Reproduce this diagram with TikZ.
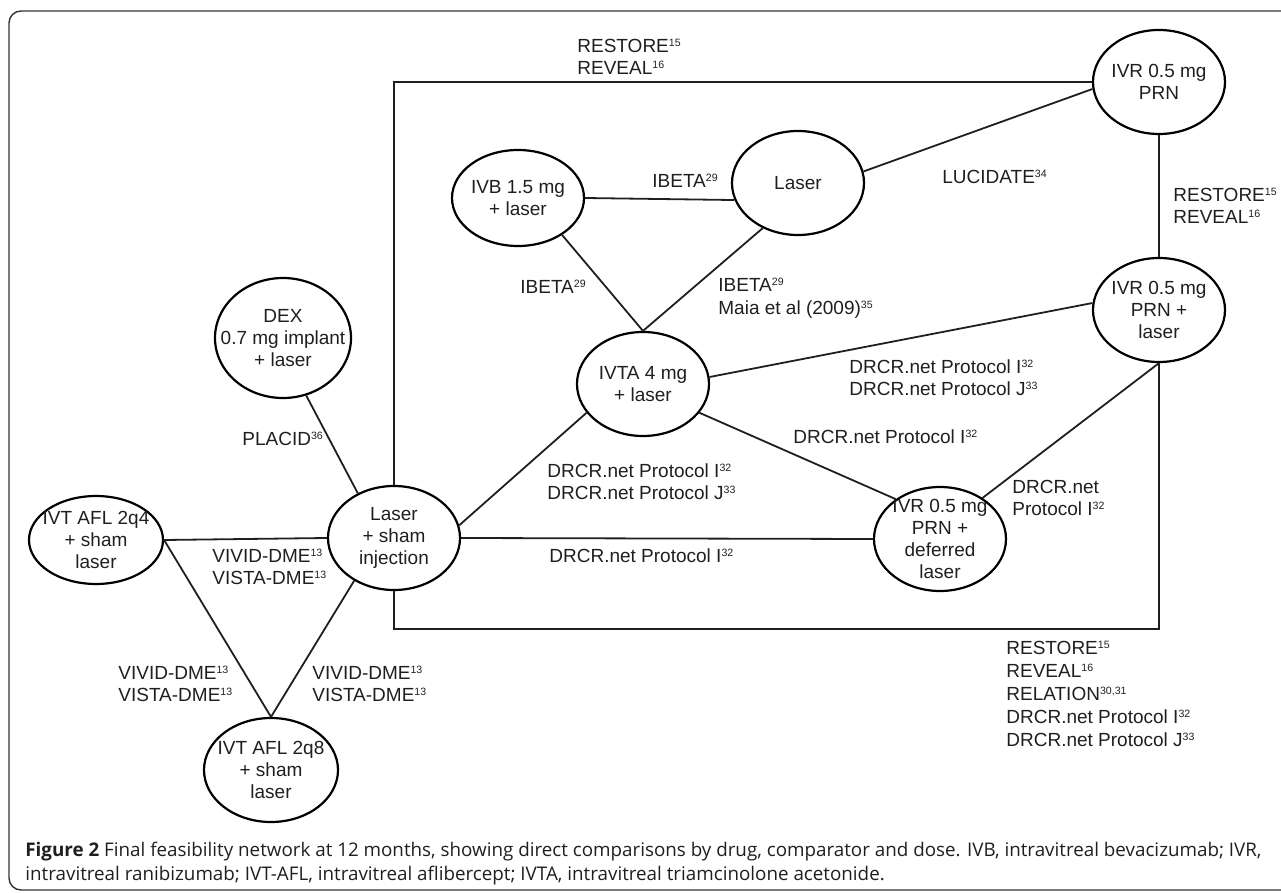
\documentclass[tikz,border=0pt]{standalone}
\usepackage{fontspec}
\setmainfont{Liberation Sans}
\newfontfamily\capfont{Open Sans}
\usetikzlibrary{shapes.geometric}
\newcommand{\rf}[1]{\raisebox{3pt}{\fontsize{5.3}{6}\selectfont #1}}

\begin{document}
\begin{tikzpicture}[x=0.5pt, y=-0.5pt,
  every node/.style={font=\fontsize{9.5}{11}\selectfont, text=black!88},
  trt/.style={ellipse, draw, line width=1.1pt, inner sep=-12pt, minimum width=66pt, minimum height=52pt, align=center},
  lbl/.style={anchor=west, align=left, inner sep=0pt},
  link/.style={line width=0.9pt, black!88}]
\useasboundingbox (0,0) rectangle (1281,893);
\draw[line width=0.7pt, black!80, rounded corners=6pt] (9,890) rectangle (1300,11);

% treatments
\node[trt] (PRN) at (1159,82) {IVR 0.5 mg\\PRN};
\node[trt] (PRNL) at (1159,310) {IVR 0.5 mg\\PRN +\\laser};
\node[trt] (LAS) at (798,183) {Laser};
\node[trt, minimum height=48pt] (IVB) at (518,198) {IVB 1.5 mg\\+ laser};
\node[trt] (IVTA) at (643,384) {IVTA 4 mg\\+ laser};
\node[trt, minimum width=68pt, minimum height=60pt] (DEX) at (283,338) {DEX\\0.7 mg implant\\+ laser};
\node[trt] (LSI) at (394,538) {Laser\\+ sham\\injection};
\node[trt] (DEF) at (940,539) {IVR 0.5 mg\\PRN +\\deferred\\laser};
\node[trt, minimum width=67pt, minimum height=44pt] (AFL4) at (96,540) {IVT AFL 2q4\\+ sham\\laser};
\node[trt, minimum width=67pt] (AFL8) at (271,770) {IVT AFL 2q8\\+ sham\\laser};

% comparisons
\coordinate (loopB) at (1159,629);
\draw[link] (LSI.north) |- (PRN.west);
\draw[link] (LSI.south) |- (loopB) -- (PRNL.south);
\draw[link] (PRN.south) -- (PRNL.north);
\draw[link] (LAS.10) -- (PRN.186);
\draw[link] (IVB.east) -- (LAS.195);
\draw[link] (IVB.-40) -- (IVTA.north);
\draw[link] (LAS.232) -- (IVTA.north);
\draw[link] (DEX.-68) -- (LSI.129);
\draw[link] (LSI.11) -- (IVTA.207);
\draw[link] (LSI.east) -- (DEF.west);
\draw[link] (IVTA.-27) -- (DEF.138);
\draw[link] (IVTA.6) -- (PRNL.174);
\draw[link] (DEF.44) -- (PRNL.south);
\draw[link] (AFL4.east) -- (LSI.west);
\draw[link] (AFL4.east) -- (AFL8.north);
\draw[link] (LSI.227) -- (AFL8.north);

% trials
\node[lbl] (t1) at (577,57) {RESTORE\rf{15}\\REVEAL\rf{16}};
\node[lbl] (t2) at (942,177) {LUCIDATE\rf{34}};
\node[lbl] (t3) at (1173,206) {RESTORE\rf{15}\\REVEAL\rf{16}};
\node[lbl] (t4) at (652,181) {IBETA\rf{29}};
\node[lbl] (t5) at (520,287) {IBETA\rf{29}};
\node[lbl, font=\fontsize{9.5}{11.5}\selectfont] (t6) at (718,298) {IBETA\rf{29}\\Maia et al (2009)\rf{35}};
\node[lbl] (t7) at (242,439) {PLACID\rf{36}};
\node[lbl] (t8) at (547,482) {DRCR.net Protocol I\rf{32}\\DRCR.net Protocol J\rf{33}};
\node[lbl] (t9) at (549,556) {DRCR.net Protocol I\rf{32}};
\node[lbl] (t10) at (793,437) {DRCR.net Protocol I\rf{32}};
\node[lbl] (t11) at (849,378) {DRCR.net Protocol I\rf{32}\\DRCR.net Protocol J\rf{33}};
\node[lbl] (t12) at (1012,498) {DRCR.net\\Protocol I\rf{32}};
\node[lbl] (t13) at (212,567) {VIVID-DME\rf{13}\\VISTA-DME\rf{13}};
\node[lbl] (t14) at (118,684) {VIVID-DME\rf{13}\\VISTA-DME\rf{13}};
\node[lbl] (t15) at (312,684) {VIVID-DME\rf{13}\\VISTA-DME\rf{13}};
\node[lbl, font=\fontsize{9.5}{11.5}\selectfont] (t16) at (1006,694) {RESTORE\rf{15}\\REVEAL\rf{16}\\RELATION\rf{30,31}\\DRCR.net Protocol I\rf{32}\\DRCR.net Protocol J\rf{33}};

% caption
\node[lbl, font=\capfont\fontsize{9.4}{11}\selectfont] (cap1) at (25,852) {\textbf{Figure 2} Final feasibility network at 12 months, showing direct comparisons by drug, comparator and dose. IVB, intravitreal bevacizumab; IVR,};
\node[lbl, font=\capfont\fontsize{9.4}{11}\selectfont] (cap2) at (25,876) {intravitreal ranibizumab; IVT-AFL, intravitreal aflibercept; IVTA, intravitreal triamcinolone acetonide.};
\end{tikzpicture}
\end{document}
